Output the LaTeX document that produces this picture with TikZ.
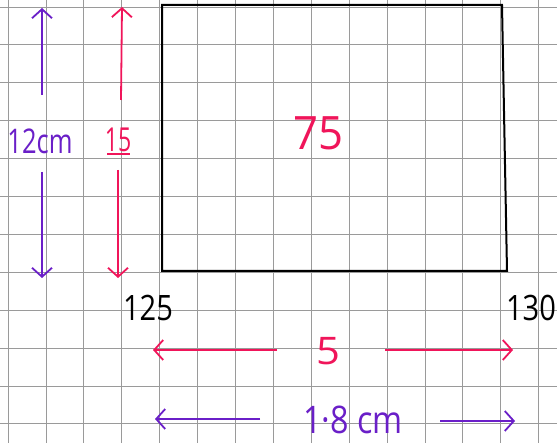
\documentclass[tikz,border=0pt]{standalone}
\usepackage{fontspec}
\setmainfont{Open Sans}
\usetikzlibrary{arrows.meta}
\definecolor{gridgray}{HTML}{9A9A9A}
\definecolor{penpurple}{HTML}{6A1FC8}
\definecolor{penpink}{HTML}{F0155A}
\tikzset{
  gridline/.style={draw=gridgray, line width=0.8pt},
  outline/.style={draw=black, line width=2pt, line join=miter},
  purplearrow/.style={draw=penpurple, line width=1.8pt, -{Straight Barb[length=9pt,width=20pt,line width=1.8pt]}},
  pinkarrow/.style={draw=penpink, line width=1.8pt, -{Straight Barb[length=9pt,width=20pt,line width=1.8pt]}},
  purpletext/.style={text=penpurple, inner sep=0pt},
  pinktext/.style={text=penpink, inner sep=0pt},
  blacktext/.style={text=black, inner sep=0pt},
}
\newcommand{\hand}[3]{\scalebox{#2}[1]{\fontsize{#1}{#1}\selectfont #3}}
\begin{document}
\begin{tikzpicture}[x=1pt,y=-1pt]
\useasboundingbox (0,0) rectangle (557,443);
\fill[white] (0,0) rectangle (557,443);
% grid paper
\foreach \i in {0,...,14} { \draw[gridline] ({8+37.9*\i},0) -- ({8+37.9*\i},443); }
\foreach \j in {0,...,11} { \draw[gridline] (0,{7+37.9*\j}) -- (557,{7+37.9*\j}); }
% rectangle
\coordinate (tl) at (162,5);
\coordinate (tr) at (502,5);
\coordinate (br) at (507,271);
\coordinate (bl) at (162,271);
\draw[outline] (tl) -- (tr) -- (br) -- (bl) -- cycle;
% labels
\node[pinktext] (area) at (318,133) {\hand{46}{0.95}{75}};
\node[purpletext] (h1) at (40,141) {\hand{34}{0.75}{12cm}};
\node[pinktext] (h2) at (118,140) {\hand{33}{0.7}{15}};
\coordinate (u1) at (107,154); \coordinate (u2) at (130,154);
\draw[penpink, line width=1.6pt] (u1) -- (u2);
\node[blacktext] (lo) at (148,308) {\hand{35}{0.83}{125}};
\node[blacktext] (hi) at (531,308) {\hand{35}{0.83}{130}};
\node[pinktext] (w1) at (328,351) {\hand{38}{1.1}{5}};
\node[purpletext] (w2) at (353,420) {\hand{38}{0.85}{1·8 cm}};
% vertical arrows
\coordinate (pu0) at (42,95);  \coordinate (pu1) at (42,8);
\coordinate (pd0) at (42,172); \coordinate (pd1) at (42,278);
\draw[purplearrow] (pu0) -- (pu1);
\draw[purplearrow] (pd0) -- (pd1);
\coordinate (ku0) at (121,100); \coordinate (ku1) at (122,7);
\coordinate (kd0) at (118,170); \coordinate (kd1) at (118,278);
\draw[pinkarrow] (ku0) -- (ku1);
\draw[pinkarrow] (kd0) -- (kd1);
% horizontal arrows
\coordinate (kl0) at (277,350); \coordinate (kl1) at (153,350);
\coordinate (kr0) at (385,350); \coordinate (kr1) at (513,350);
\draw[pinkarrow] (kl0) -- (kl1);
\draw[pinkarrow] (kr0) -- (kr1);
\coordinate (ml0) at (260,419); \coordinate (ml1) at (155,419);
\coordinate (mr0) at (440,421); \coordinate (mr1) at (515,421);
\draw[purplearrow] (ml0) -- (ml1);
\draw[purplearrow] (mr0) -- (mr1);
\end{tikzpicture}
\end{document}
